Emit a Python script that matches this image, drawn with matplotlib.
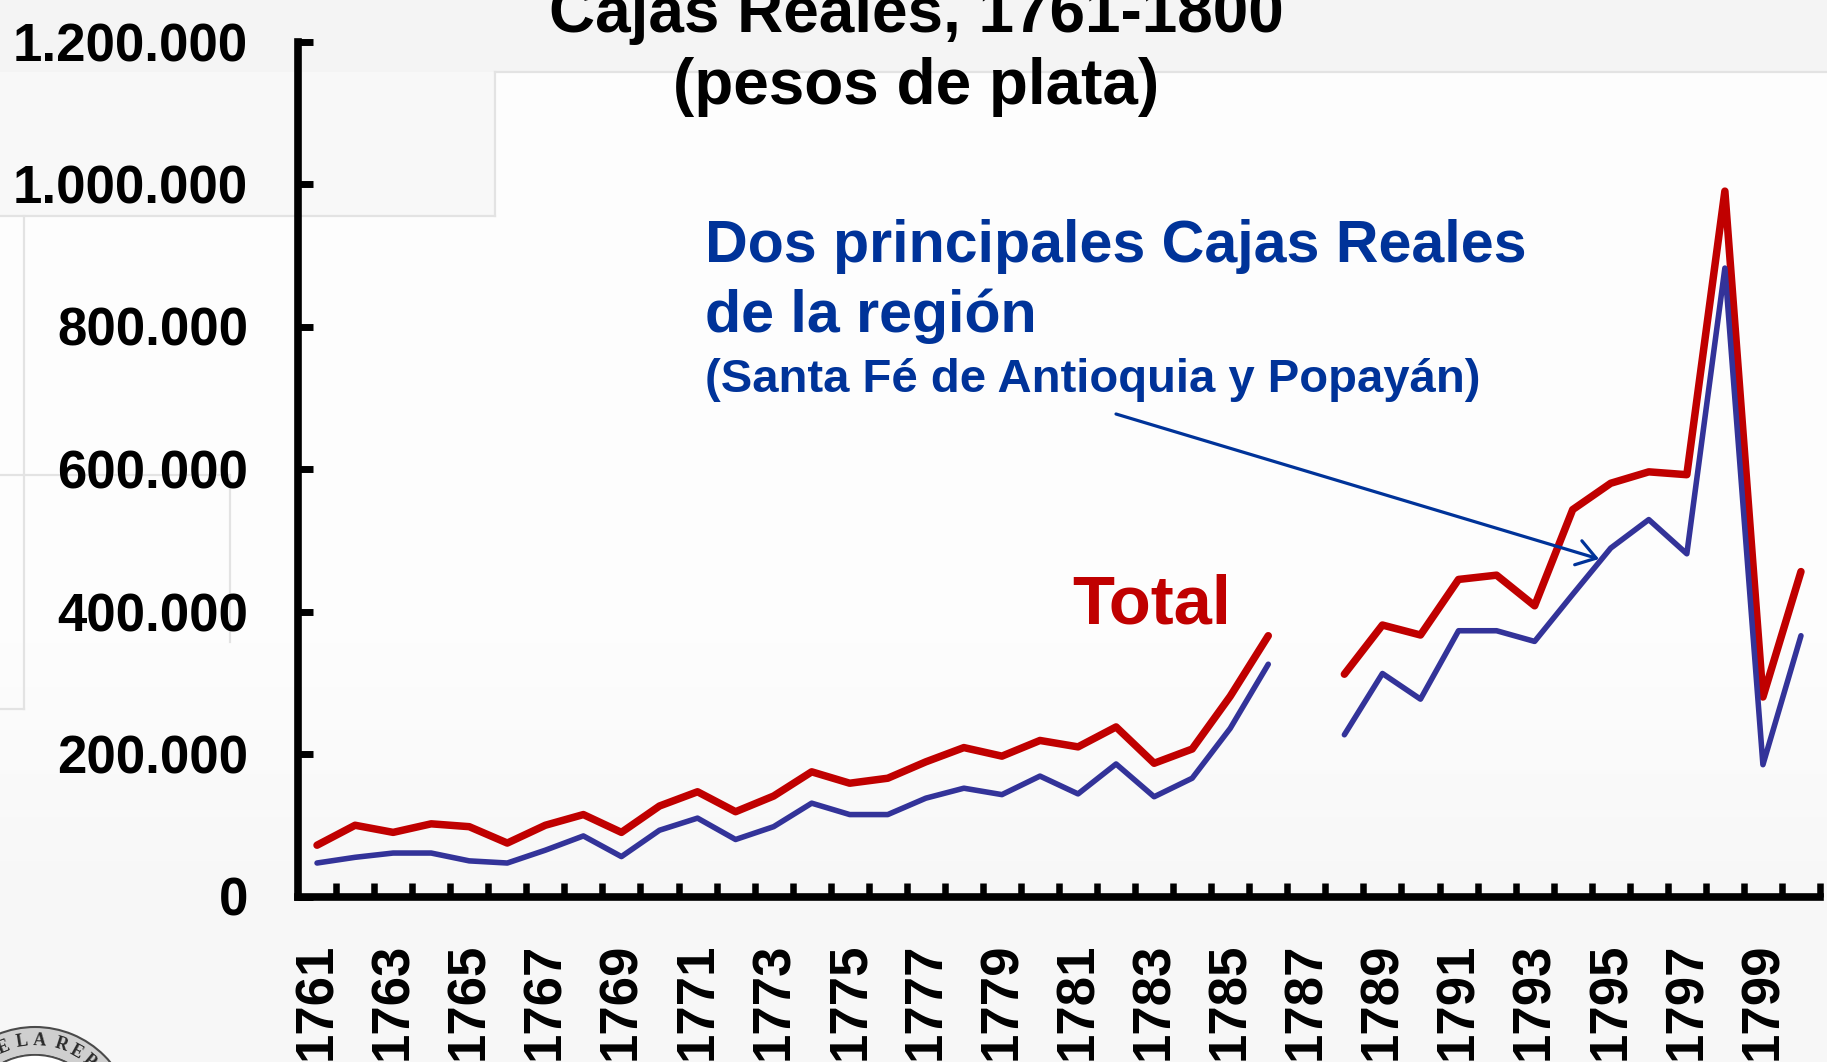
import numpy as np
import matplotlib
matplotlib.use('Agg')
import matplotlib.pyplot as plt
from matplotlib.patches import Polygon, FancyArrowPatch, Wedge, Circle
from matplotlib.lines import Line2D

# ---------------- data ----------------
years = list(range(1761, 1801))
nan = float('nan')
total = [72, 100, 90, 102, 98, 75, 100, 115, 90, 127,
         147, 119, 141, 175, 159, 166, 189, 209, 197, 219,
         210, 238, 187, 207, 281, 366, nan, 312, 381, 367,
         445, 451, 408, 543, 580, 596, 592, 990, 280, 456]
dos_cajas = [47, 55, 61, 61, 50, 47, 65, 85, 56, 93,
             110, 80, 98, 131, 115, 115, 138, 152, 143, 169,
             144, 186, 140, 166, 236, 326, nan, 227, 313, 277,
             373, 373, 358, 424, 489, 529, 481, 882, 185, 366]
total = [v * 1000 for v in total]
dos_cajas = [v * 1000 for v in dos_cajas]
ytick_values = [0, 200000, 400000, 600000, 800000, 1000000, 1200000]
ytick_labels = ['0', '200.000', '400.000', '600.000', '800.000', '1.000.000', '1.200.000']
xtick_labels = [str(y) for y in years[::2]]

title_lines = ['Cajas Reales, 1761-1800', '(pesos de plata)']
note_lines = ['Dos principales Cajas Reales', 'de la región']
note_small = '(Santa Fé de Antioquia y Popayán)'
total_label = 'Total'

RED = '#C00000'
BLUE_LINE = '#333399'
BLUE_TXT = '#003399'

plt.rcParams['font.family'] = ['Liberation Sans', 'DejaVu Sans']

W, H = 1827, 1062
fig = plt.figure(figsize=(W / 100, H / 100), dpi=100)
fig.patch.set_facecolor('#fbfbfb')

# background axes in pixel coordinates (y downwards)
bg = fig.add_axes([0, 0, 1, 1], zorder=-10)
rows = np.arange(H)
shade = np.clip((rows - 600) / 300.0, 0, 1)
c = 0.996 - 0.027 * shade
img = np.dstack([c, c, c]).reshape(H, 1, 3)
bg.imshow(img, extent=[0, W, H, 0], aspect='auto', interpolation='bilinear')
bg.add_patch(Polygon([(0, 0), (W, 0), (W, 72), (0, 72)], closed=True,
                     facecolor='#f4f4f4', edgecolor='none'))
bg.add_patch(Polygon([(0, 72), (495, 72), (495, 216), (0, 216)], closed=True,
                     facecolor='#f8f8f8', edgecolor='none'))
faint = '#e3e3e3'
for (x0, y0, x1, y1) in [(495, 72, W, 72), (495, 72, 495, 216), (0, 216, 495, 216),
                         (24, 216, 24, 709), (0, 709, 24, 709),
                         (0, 475, 230, 475), (230, 475, 230, 642)]:
    bg.add_line(Line2D([x0, x1], [y0, y1], color=faint, lw=1.6))

# partial seal bottom-left
cx, cy = 35, 1125
bg.add_patch(Wedge((cx, cy), 98, 0, 360, width=28, facecolor='#cfcfcf',
                   edgecolor='#4a4a4a', lw=1.5))
bg.add_patch(Circle((cx, cy), 70, facecolor='#ffffff', edgecolor='#4a4a4a', lw=1.2))
for ch, a in zip(['E', 'L', 'A', 'R', 'E', 'P', 'U'], [-22, -9, 3, 18, 29, 40, 51]):
    ar = np.deg2rad(a)
    bg.text(cx + 84 * np.sin(ar), cy - 84 * np.cos(ar), ch, rotation=-a,
            ha='center', va='center', fontsize=13, fontweight='bold',
            family='Liberation Serif', color='#2a2a2a')
bg.set_xlim(0, W)
bg.set_ylim(H, 0)
bg.axis('off')

# ---------------- main chart ----------------
left, right, top, bottom = 298, 1820, 41.5, 896.5
ax = fig.add_axes([left / W, 1 - bottom / H, (right - left) / W, (bottom - top) / H])
ax.patch.set_alpha(0)
x = np.arange(len(years))
ax.plot(x, total, color=RED, lw=5.4, solid_joinstyle='round',
        solid_capstyle='round', zorder=3, clip_on=False)
ax.plot(x, dos_cajas, color=BLUE_LINE, lw=4.0, solid_joinstyle='round',
        solid_capstyle='round', zorder=3, clip_on=False)
ax.set_xlim(-0.5, len(years) - 0.5)
ax.set_ylim(0, 1200000)

for s in ['top', 'right']:
    ax.spines[s].set_visible(False)
for s in ['left', 'bottom']:
    ax.spines[s].set_linewidth(5.5)
    ax.spines[s].set_color('black')

ax.set_xticks(x[::2])
ax.set_xticklabels(xtick_labels, rotation=90, fontsize=38, fontweight='bold')
ax.set_xticks(np.arange(0.5, len(years), 1.0), minor=True)
ax.tick_params(axis='x', which='major', length=0, pad=33)
ax.tick_params(axis='x', which='minor', direction='in', length=10, width=4.7, color='black')
ax.set_yticks(ytick_values)
ax.set_yticklabels(ytick_labels, fontsize=38, fontweight='bold')
ax.tick_params(axis='y', which='major', direction='in', length=11, width=5, pad=36)
ax.tick_params(axis='y', which='minor', length=0)

# ---------------- texts ----------------
T = bg.transData
fig.text(916, 31.7, title_lines[0], transform=T, ha='center', va='baseline',
         fontsize=46, fontweight='bold', color='black')
fig.text(916, 104, title_lines[1], transform=T, ha='center', va='baseline',
         fontsize=46, fontweight='bold', color='black')
fig.text(705, 262, note_lines[0], transform=T, ha='left', va='baseline',
         fontsize=42.6, fontweight='bold', color=BLUE_TXT)
fig.text(705, 332, note_lines[1], transform=T, ha='left', va='baseline',
         fontsize=42.6, fontweight='bold', color=BLUE_TXT)
fig.text(705, 392, note_small, transform=T, ha='left', va='baseline',
         fontsize=34, fontweight='bold', color=BLUE_TXT)
fig.text(1072, 624, total_label, transform=T, ha='left', va='baseline',
         fontsize=49.5, fontweight='bold', color=RED)

arrow = FancyArrowPatch((1116, 414), (1599, 559), transform=T,
                        arrowstyle='->,head_length=0.45,head_width=0.3',
                        mutation_scale=30, color=BLUE_TXT, lw=2.3,
                        shrinkA=0, shrinkB=0, zorder=10)
fig.add_artist(arrow)

fig.savefig('out.png', dpi=100, facecolor=fig.get_facecolor())
